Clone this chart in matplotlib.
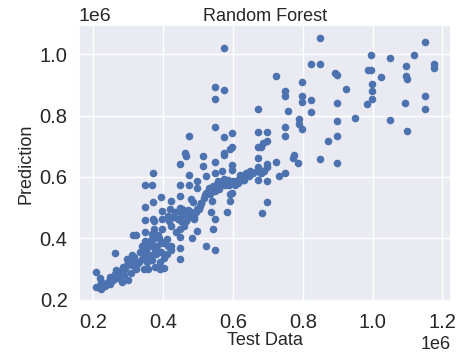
import numpy as np
import matplotlib
matplotlib.use("Agg")
import matplotlib.pyplot as plt
import seaborn as sns

# values in thousands
test_k = [
    1150, 848, 575, 996, 1049, 1119, 824, 848, 1097, 1175, 1175, 893, 898, 988, 996,
    1025, 724, 1097, 1099, 797, 999, 923, 999, 548, 575, 748, 748, 799, 824, 799,
    548, 999, 898, 984, 1094, 1150, 1150, 671, 759, 824, 950, 788, 1049, 898, 788,
    548, 748, 799, 1099, 671, 698, 597, 474, 748, 898, 575, 873, 698, 686, 681,
    671, 597, 591, 575, 575, 464, 467, 514, 671, 776, 771, 786, 848, 898, 724,
    548, 448, 597, 597, 514, 671, 698, 698, 686, 681, 748, 733, 372, 474, 523,
    548, 569, 619, 638, 648, 671, 698, 629, 614, 498, 348, 369, 448, 474, 498,
    393, 448, 591, 591, 698, 372, 424, 481, 486, 510, 348, 448, 498, 583, 537,
    683, 548, 348, 372, 498, 543, 483, 522, 548, 448, 448, 422, 424,
    207, 207, 215, 222, 222, 220, 234, 241, 248, 248, 258, 263, 266, 263, 272,
    281, 279, 287, 291, 296, 298, 301, 308, 310, 310, 315, 323, 324, 315, 323,
    334, 339, 339, 345, 345, 348, 348, 351, 353, 358, 361, 363, 367, 367, 372,
    372, 374, 374, 376, 381, 383, 386, 391, 391, 393, 395, 398, 398, 398, 402,
    404, 410, 410, 414, 414, 421, 424, 428, 433, 442, 448, 448, 448, 453, 455,
    462, 465, 469, 476, 481, 488, 495, 503, 510, 516, 524, 531, 535, 543, 550,
    557, 563, 571, 578, 587, 600, 607, 614, 624, 633, 645, 657, 668, 681, 690,
    553, 597,
    230, 255, 270, 285, 300, 318, 330, 342, 356, 365, 378, 388, 400, 418, 436,
    450, 460, 472, 490, 505, 520, 540, 560, 575, 590,
]
pred_k = [
    1042, 1055, 1020, 997, 989, 997, 969, 969, 962, 968, 957, 938, 932, 948, 948,
    926, 931, 930, 919, 909, 905, 887, 882, 894, 884, 880, 863, 863, 852, 846,
    855, 853, 843, 838, 843, 865, 823, 823, 814, 812, 794, 789, 785, 782, 774,
    762, 762, 757, 751, 748, 748, 745, 733, 733, 735, 729, 719, 719, 710, 699,
    698, 699, 691, 677, 672, 677, 667, 670, 661, 672, 661, 645, 657, 646, 648,
    649, 641, 638, 624, 636, 631, 641, 631, 618, 613, 612, 602, 612, 605, 602,
    613, 618, 608, 613, 618, 591, 588, 591, 580, 586, 574, 574, 575, 573, 565,
    535, 538, 543, 522, 519, 519, 522, 527, 519, 514, 501, 500, 495, 487, 487,
    483, 462, 461, 464, 425, 430, 400, 375, 363, 368, 332, 376, 363,
    290, 242, 241, 234, 258, 271, 245, 258, 274, 249, 263, 282, 296, 353, 269,
    256, 292, 279, 299, 312, 333, 263, 285, 312, 344, 328, 299, 317, 409, 409,
    355, 376, 333, 299, 344, 419, 392, 363, 323, 301, 376, 344, 413, 330, 376,
    398, 430, 457, 306, 350, 376, 409, 323, 301, 355, 387, 430, 462, 489, 303,
    335, 349, 398, 376, 473, 495, 441, 468, 484, 462, 484, 430, 403, 468, 495,
    473, 457, 484, 468, 484, 462, 484, 495, 516, 532, 548, 564, 543, 570, 554,
    586, 570, 586, 575, 591, 586, 575, 591, 602, 591, 602, 613, 618, 613, 618,
    575, 549,
    252, 268, 288, 305, 318, 340, 322, 360, 338, 395, 362, 400, 385, 455, 420,
    455, 440, 492, 470, 505, 540, 520, 560, 592, 575,
]

test = np.array(test_k) * 1000
pred = np.array(pred_k) * 1000

sns.set_theme(style="darkgrid")
plt.rcParams['font.family'] = ['Liberation Sans', 'DejaVu Sans']

fig = plt.figure(figsize=(4.66, 3.52), dpi=100)
ax = fig.add_axes([0.169, 0.143, 0.798, 0.786])
ax.scatter(test, pred, s=30, color='#4c72b0', linewidths=0)

ax.set_title("Random Forest", fontsize=13, pad=3)
ax.set_xlabel("Test Data", fontsize=13, labelpad=0)
ax.set_ylabel("Prediction", fontsize=13)
ax.tick_params(labelsize=14.5, pad=2)
ax.xaxis.get_offset_text().set_fontsize(13)
ax.yaxis.get_offset_text().set_fontsize(14)

fig.savefig("out.png", dpi=100)
